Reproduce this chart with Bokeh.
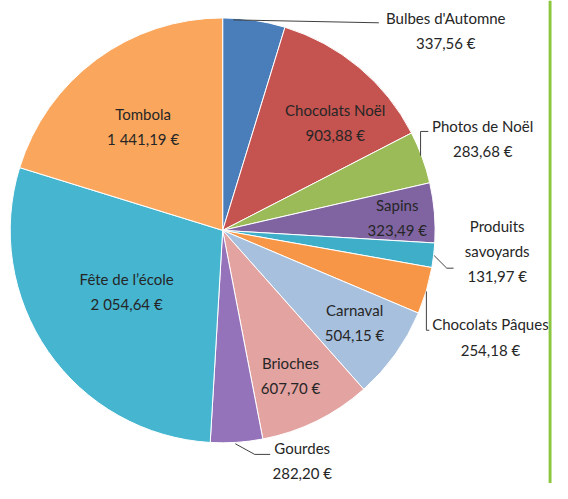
import math
from bokeh.plotting import figure
from bokeh.models import Range1d, ColumnDataSource, BoxAnnotation
from bokeh.core.properties import value
from bokeh.embed import file_html
from bokeh.resources import INLINE

# ---- data (clockwise from 12 o'clock) ----
categories = ["Bulbes d'Automne", "Chocolats Noël", "Photos de Noël", "Sapins",
              "Produits savoyards", "Chocolats Pâques", "Carnaval", "Brioches",
              "Gourdes", "Fête de l'école", "Tombola"]
amounts = [337.56, 903.88, 283.68, 323.49, 131.97, 254.18, 504.15, 607.70,
           282.20, 2054.64, 1441.19]
amount_labels = ["337,56 €", "903,88 €", "283,68 €", "323,49 €", "131,97 €",
                 "254,18 €", "504,15 €", "607,70 €", "282,20 €", "2 054,64 €",
                 "1 441,19 €"]
label_names = ["Bulbes d'Automne", "Chocolats Noël", "Photos de Noël", "Sapins",
               "Produits\nsavoyards", "Chocolats Pâques", "Carnaval", "Brioches",
               "Gourdes", "Fête de l’école", "Tombola"]

# ---- styling / layout ----
colors = ["#4A7EBB", "#C5534F", "#9BBB59", "#8064A2", "#3FAFC9", "#F79646",
          "#A7C0DE", "#E3A3A1", "#9573BA", "#45B5D0", "#FAA75D"]
W, H = 552, 483
REF_W, REF_H = 569, 498      # reference-pixel extent shown in the frame
cx, cy_ref, R = 229, 237, 219
# label block centres in reference pixels
label_pos = [(459, 31), (345, 126), (497, 142), (409, 224), (512, 258),
             (505, 347), (365, 332), (299, 387), (311, 474), (130, 300),
             (147, 130)]
leaders = [
    [(240, 20), (390, 23)],
    [(433, 160), (433, 135), (441, 135)],
    [(447, 263), (460, 276), (467, 276)],
    [(439, 300), (439, 340), (442, 340)],
    [(242, 457), (262, 468), (278, 468)],
]

def fy(ref_y):
    return 499 - ref_y

total = sum(amounts)
starts, ends = [], []
cum = 0.0
for a in amounts:
    t1 = cum / total * 2 * math.pi
    cum += a
    t2 = cum / total * 2 * math.pi
    starts.append(math.pi / 2 - t2)
    ends.append(math.pi / 2 - t1)

p = figure(width=W, height=H, output_backend="svg", toolbar_location=None,
           x_range=Range1d(0, REF_W), y_range=Range1d(fy(REF_H), fy(0)),
           min_border=0)
p.axis.visible = False
p.grid.visible = False
p.outline_line_color = None
p.background_fill_color = "white"

src = ColumnDataSource(dict(x=[cx] * len(amounts), y=[fy(cy_ref)] * len(amounts),
                            start=starts, end=ends, color=colors, cat=categories))
p.wedge(x="x", y="y", radius=R, start_angle="start", end_angle="end",
        fill_color="color", line_color="white", line_width=1, source=src)

for pts in leaders:
    p.line([q[0] for q in pts], [fy(q[1]) for q in pts], line_color="#404040",
           line_width=1)

texts = [n + "\n" + v for n, v in zip(label_names, amount_labels)]
tsrc = ColumnDataSource(dict(x=[q[0] for q in label_pos],
                             y=[fy(q[1]) for q in label_pos], t=texts))
p.text(x="x", y="y", text="t", source=tsrc, text_align="center",
       text_baseline="middle", text_font=value("Lato"), text_font_size="15px",
       text_color="#262626", text_line_height=1.4)

p.add_layout(BoxAnnotation(left=565, right=568, bottom=fy(REF_H), top=fy(0),
                           fill_color="#8CC63E", fill_alpha=1, line_color=None))

open("out.html", "w").write(file_html(p, INLINE))
